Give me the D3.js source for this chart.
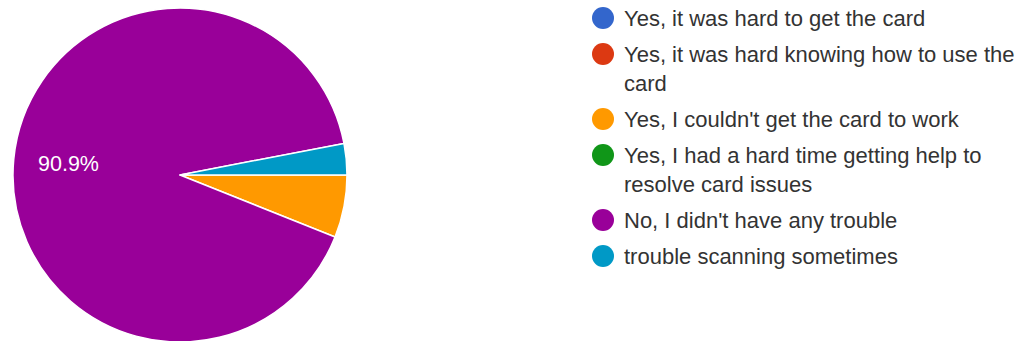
<!DOCTYPE html>
<html>
<head>
<meta charset="utf-8">
<script src="https://cdn.jsdelivr.net/npm/d3@7"></script>
<style>
  html, body { margin: 0; padding: 0; background: #fff; }
  svg { display: block; }
</style>
</head>
<body>
<svg id="chart" width="1021" height="341"></svg>
<script>
// Survey answers and response counts
const categories = [
  "Yes, it was hard to get the card",
  "Yes, it was hard knowing how to use the card",
  "Yes, I couldn't get the card to work",
  "Yes, I had a hard time getting help to resolve card issues",
  "No, I didn't have any trouble",
  "trouble scanning sometimes"
];
const counts = [0, 0, 2, 0, 30, 1];
const colors = ["#3366cc", "#dc3912", "#ff9900", "#109618", "#990099", "#0099c6"];

const svg = d3.select("#chart");
const font = "'Liberation Sans', Arial, sans-serif";

// Pie
const cx = 180, cy = 175, radius = 167;
const total = d3.sum(counts);
const data = categories.map((c, i) => ({ label: c, value: counts[i], color: colors[i] }));

const pie = d3.pie()
  .value(d => d.value)
  .sort(null)
  .startAngle(Math.PI / 2)
  .endAngle(Math.PI / 2 + 2 * Math.PI);

const arcs = pie(data);
const arc = d3.arc().innerRadius(0).outerRadius(radius);
const labelArc = d3.arc().innerRadius(112).outerRadius(112);

const g = svg.append("g").attr("transform", `translate(${cx},${cy})`);

g.selectAll("path.slice")
  .data(arcs.filter(a => a.data.value > 0))
  .join("path")
  .attr("class", "slice")
  .attr("d", arc)
  .attr("fill", d => d.data.color)
  .attr("stroke", "#ffffff")
  .attr("stroke-width", 1.5)
  .attr("stroke-linejoin", "round");

// Percent labels on slices large enough to hold them
g.selectAll("text.pct")
  .data(arcs.filter(a => a.data.value / total > 0.1))
  .join("text")
  .attr("class", "pct")
  .attr("transform", d => `translate(${labelArc.centroid(d)})`)
  .attr("text-anchor", "middle")
  .attr("dominant-baseline", "central")
  .attr("fill", "#ffffff")
  .style("font-family", font)
  .style("font-size", "21.5px")
  .text(d => (d.data.value / total * 100).toFixed(1) + "%");

// Legend with wrapped labels
const legendX = 603, textX = 624, maxWidth = 396;
const lineH = 29, itemGap = 36;
const legend = svg.append("g");
let y = 18;

data.forEach(d => {
  const item = legend.append("g");
  item.append("circle")
    .attr("cx", legendX).attr("cy", y).attr("r", 11)
    .attr("fill", d.color);

  const text = item.append("text")
    .attr("x", textX)
    .attr("fill", "#333333")
    .style("font-family", font)
    .style("font-size", "22px");

  const words = d.label.split(" ");
  let line = [];
  let lineY = y;
  let tspan = text.append("tspan").attr("x", textX).attr("y", lineY).attr("dominant-baseline", "central");
  words.forEach(w => {
    line.push(w);
    tspan.text(line.join(" "));
    if (tspan.node().getComputedTextLength() > maxWidth && line.length > 1) {
      line.pop();
      tspan.text(line.join(" "));
      line = [w];
      lineY += lineH;
      tspan = text.append("tspan").attr("x", textX).attr("y", lineY)
        .attr("dominant-baseline", "central").text(w);
    }
  });
  y = lineY + itemGap;
});
</script>
</body>
</html>
